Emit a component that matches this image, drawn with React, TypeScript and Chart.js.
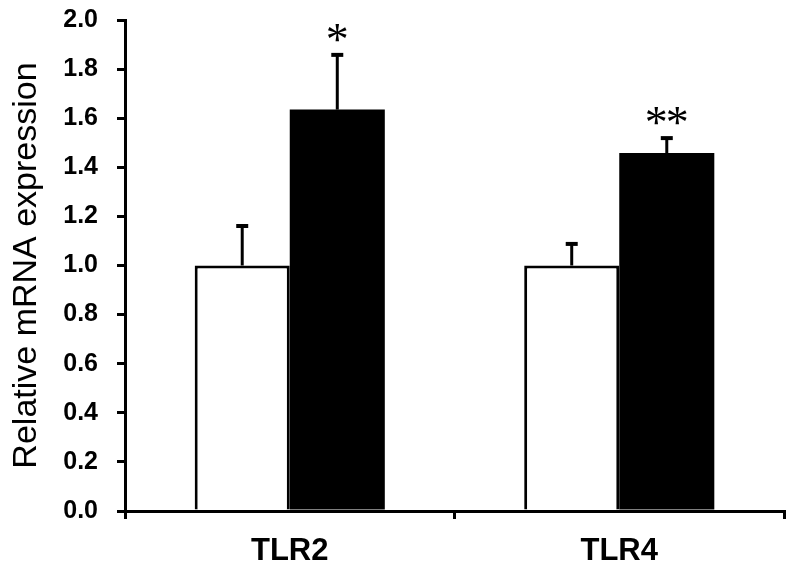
import React, { useEffect, useRef } from "react";
import { Chart, registerables } from "chart.js";

Chart.register(...registerables);

const categories = ["TLR2", "TLR4"];
const controlValues = [1.0, 1.0];
const controlErrors = [0.165, 0.092];
const treatedValues = [1.635, 1.458];
const treatedErrors = [0.227, 0.065];
const controlMarks = ["", ""];
const treatedMarks = ["*", "**"];
const yTicks = [0, 0.2, 0.4, 0.6, 0.8, 1.0, 1.2, 1.4, 1.6, 1.8, 2.0];
const yTitle = "Relative mRNA expression";

const FONT = "'Liberation Sans', Arial, Helvetica, sans-serif";
const MARK_FONT = "'Liberation Serif', 'Times New Roman', serif";

const errorBarPlugin = {
  id: "errorBars",
  afterDatasetsDraw(chart: any) {
    const ctx = chart.ctx;
    const yScale = chart.scales.y;
    chart.data.datasets.forEach((ds: any, di: number) => {
      const meta = chart.getDatasetMeta(di);
      const errs: number[] = ds.errors || [];
      const marks: string[] = ds.marks || [];
      meta.data.forEach((bar: any, i: number) => {
        const v = ds.data[i];
        const e = errs[i] || 0;
        const x = bar.x;
        const yBase = yScale.getPixelForValue(v);
        const yTop = yScale.getPixelForValue(v + e);
        ctx.save();
        ctx.strokeStyle = "#000";
        ctx.lineWidth = 3;
        ctx.beginPath();
        ctx.moveTo(x, yBase);
        ctx.lineTo(x, yTop);
        ctx.stroke();
        ctx.lineWidth = 4;
        ctx.beginPath();
        ctx.moveTo(x - 6, yTop + 1);
        ctx.lineTo(x + 6, yTop + 1);
        ctx.stroke();
        const m = marks[i];
        if (m) {
          ctx.fillStyle = "#000";
          ctx.font = `46px ${MARK_FONT}`;
          ctx.textAlign = "center";
          ctx.textBaseline = "alphabetic";
          const met = ctx.measureText("*");
          const asc = met.actualBoundingBoxAscent;
          const desc = met.actualBoundingBoxDescent;
          const centerY = yTop - 21;
          const baseY = centerY + (asc - desc) / 2;
          const step = 21;
          const n = m.length;
          for (let k = 0; k < n; k++) {
            const cx = x + (k - (n - 1) / 2) * step;
            ctx.fillText("*", cx, baseY);
          }
        }
        ctx.restore();
      });
    });
  },
};

export default function App() {
  const ref = useRef<HTMLCanvasElement | null>(null);
  useEffect(() => {
    if (!ref.current) return;
    const chart = new Chart(ref.current, {
      type: "bar",
      data: {
        labels: categories,
        datasets: [
          {
            label: "Control",
            data: controlValues,
            backgroundColor: "#ffffff",
            borderColor: "#000000",
            borderWidth: 3,
            errors: controlErrors,
            marks: controlMarks,
          } as any,
          {
            label: "Treated",
            data: treatedValues,
            backgroundColor: "#000000",
            borderColor: "#000000",
            borderWidth: 0,
            errors: treatedErrors,
            marks: treatedMarks,
          } as any,
        ],
      },
      options: {
        responsive: false,
        animation: false,
        devicePixelRatio: 1,
        layout: { padding: { top: 20, right: 16, left: 0, bottom: 0 } },
        plugins: {
          legend: { display: false },
          tooltip: { enabled: false },
        },
        datasets: {
          bar: { categoryPercentage: 0.577, barPercentage: 1.0 },
        },
        scales: {
          x: {
            offset: true,
            grid: {
              offset: true,
              drawOnChartArea: false,
              drawTicks: true,
              tickLength: 8,
              color: "#000",
              lineWidth: 3,
            },
            border: { display: true, color: "#000", width: 3 },
            ticks: {
              color: "#000",
              padding: 14,
              font: { family: FONT, size: 31, weight: "bold" },
            },
            afterFit(scale: any) {
              scale.height = 69;
              scale.paddingLeft = 0;
              scale.paddingRight = 0;
            },
          },
          y: {
            min: 0,
            max: 2,
            afterBuildTicks(scale: any) {
              scale.ticks = yTicks.map((v) => ({ value: v }));
            },
            grid: {
              drawOnChartArea: false,
              drawTicks: true,
              tickLength: 8,
              color: "#000",
              lineWidth: 3,
            },
            border: { display: true, color: "#000", width: 3 },
            ticks: {
              color: "#000",
              padding: 19,
              font: { family: FONT, size: 25, weight: "bold" },
              callback: (v: any) => Number(v).toFixed(1),
            },
            title: {
              display: true,
              text: yTitle,
              color: "#000",
              font: { family: FONT, size: 34, weight: "normal" },
              padding: { top: 6, bottom: 0 },
            },
            afterFit(scale: any) {
              scale.width = 125;
              scale.paddingTop = 0;
              scale.paddingBottom = 0;
            },
          },
        },
      } as any,
      plugins: [errorBarPlugin],
    });
    return () => chart.destroy();
  }, []);
  return (
    <div style={{ position: "absolute", left: 0, top: 0, width: 800, height: 580, background: "#fff" }}>
      <canvas ref={ref} width={800} height={580} />
    </div>
  );
}
